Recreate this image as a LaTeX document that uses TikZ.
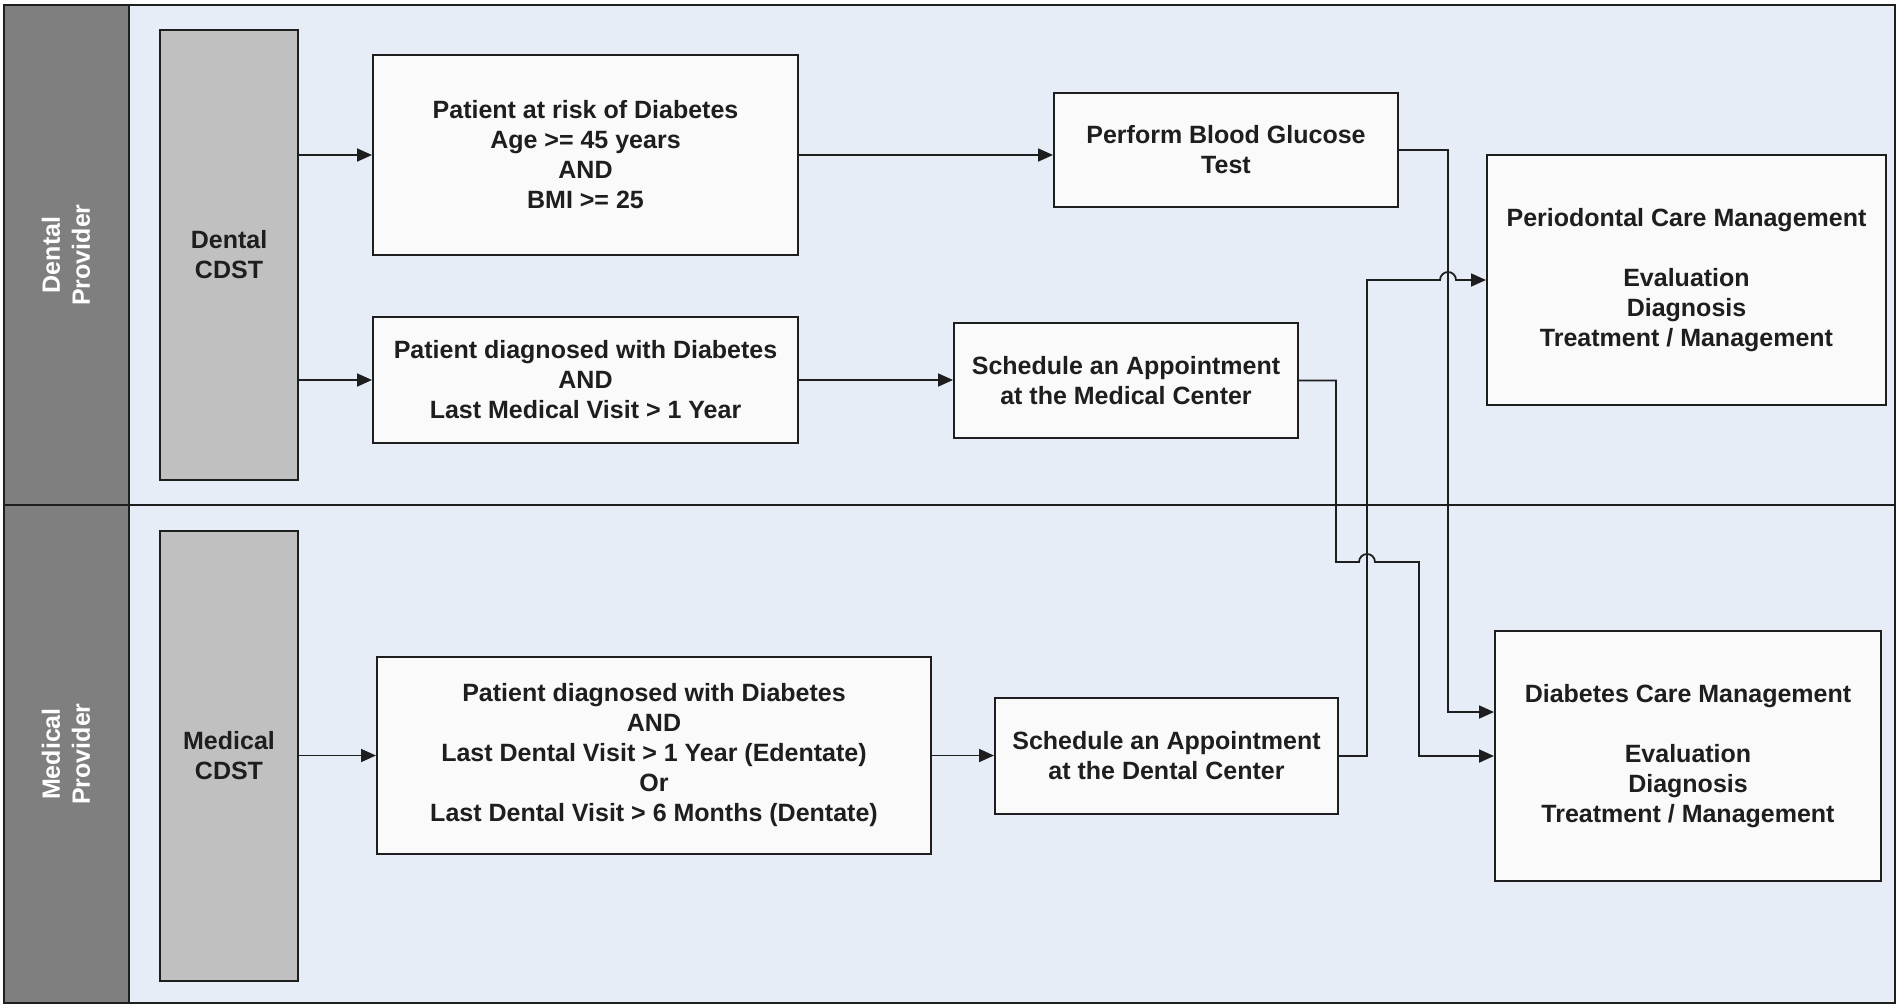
\documentclass[tikz,border=0pt]{standalone}
\usepackage{fontspec}
\setmainfont{Liberation Sans}
\usetikzlibrary{arrows.meta}
\definecolor{lanebg}{HTML}{E7EDF6}
\definecolor{headgray}{HTML}{7F7F7F}
\definecolor{cdstgray}{HTML}{C0C0C0}
\definecolor{boxwhite}{HTML}{FAFAFA}
\definecolor{inkdark}{HTML}{1E1E1E}

\begin{document}
\begin{tikzpicture}[x=1pt, y=-1pt, line width=2pt,
		every node/.style={font=\fontsize{25}{30}\selectfont\bfseries, text=inkdark, align=center},
		stepbox/.style={rectangle, draw=inkdark, fill=boxwhite, inner sep=0pt},
		cdst/.style={stepbox, fill=cdstgray, minimum width=138pt, minimum height=450pt},
		flow/.style={-{Triangle[length=15pt,width=13pt]}, draw=inkdark, line width=1.8pt}]
		\useasboundingbox (0,0) rectangle (1897,1005);

		% swim lanes
		\fill[lanebg] (4,5) rectangle (1895,1003);
		\fill[headgray] (4,5) rectangle (129,1003);
		\draw[line width=2.5pt, inkdark] (4,5) rectangle (1895,1003);
		\draw[line width=2.5pt, inkdark] (4,505) -- (1895,505);
		\draw[inkdark] (129,5) -- (129,1003);
		\node (dprov) [rotate=90, text=white] at (66,255) {Dental\\Provider};
		\node (mprov) [rotate=90, text=white] at (66,754) {Medical\\Provider};

		\node (dcdst) [cdst] at (229,255) {Dental\\CDST};
		\node (mcdst) [cdst] at (229,756) {Medical\\CDST};

		% dental lane
		\node (risk) [stepbox, minimum width=425pt, minimum height=200pt] at (585.5,155) {Patient at risk of Diabetes\\Age >= 45 years\\AND\\BMI >= 25};
		\node (gluc) [stepbox, minimum width=344pt, minimum height=114pt] at (1226,150) {Perform Blood Glucose\\Test};
		\node (perio) [stepbox, minimum width=399pt, minimum height=250pt] at (1686.5,280) {Periodontal Care Management\\[30pt]Evaluation\\Diagnosis\\Treatment / Management};
		\node (diagM) [stepbox, minimum width=425pt, minimum height=126pt] at (585.5,380) {Patient diagnosed with Diabetes\\AND\\Last Medical Visit > 1 Year};
		\node (schedM) [stepbox, minimum width=344pt, minimum height=115pt] at (1126,380.5) {Schedule an Appointment\\at the Medical Center};

		% medical lane
		\node (diagD) [stepbox, minimum width=554pt, minimum height=197pt] at (654,755.5) {Patient diagnosed with Diabetes\\AND\\Last Dental Visit > 1 Year (Edentate)\\Or\\Last Dental Visit > 6 Months (Dentate)};
		\node (schedD) [stepbox, minimum width=343pt, minimum height=116pt] at (1166.5,756) {Schedule an Appointment\\at the Dental Center};
		\node (diab) [stepbox, minimum width=386pt, minimum height=250pt] at (1688,756) {Diabetes Care Management\\[30pt]Evaluation\\Diagnosis\\Treatment / Management};

		\draw[flow] (dcdst.east |- risk.west) -- (risk.west);
		\draw[flow] (dcdst.east |- diagM.west) -- (diagM.west);
		\draw[flow] (mcdst.east |- diagD.west) -- (diagD.west);
		\draw[flow] (risk.east) -- (risk.east -| gluc.west);
		\draw[flow] (diagM.east) -- (diagM.east -| schedM.west);
		\draw[flow] (diagD.east) -- (diagD.east -| schedD.west);

		% cross-lane links, with hops
		\draw[flow] (gluc.east) -| (1448,712) -- (1448,712 -| diab.west);
		\draw[flow] (schedM.east) -| (1336,562) -- (1359,562) arc (180:0:8pt) -- (1419,562) |- (diab.west);
		\draw[flow] (schedD.east) -| (1367,280) -- (1440,280) arc (180:0:8pt) -- (perio.west);
	\end{tikzpicture}
\end{document}
